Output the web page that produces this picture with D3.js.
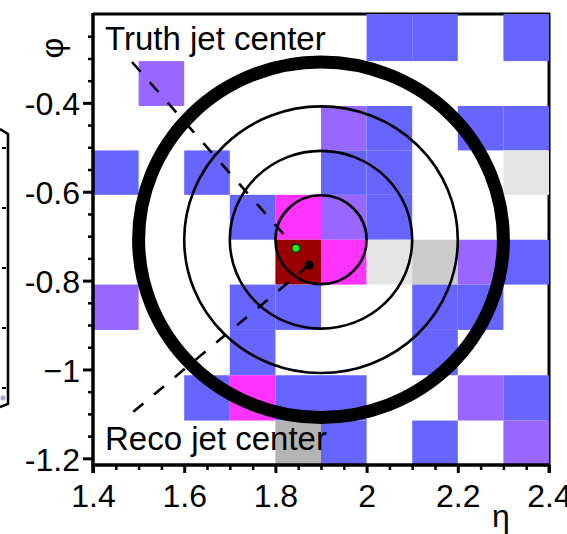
<!DOCTYPE html>
<html>
<head>
<meta charset="utf-8">
<script src="https://cdn.jsdelivr.net/npm/d3@7"></script>
<style>
  html, body { margin: 0; padding: 0; background: #fff; }
  svg { display: block; }
  text { font-family: "Liberation Sans", Arial, Helvetica, sans-serif; fill: #000; }
</style>
</head>
<body>
<script>
// Calorimeter cell grid (eta columns, phi rows from top to bottom)
const etaEdges = [1.4, 1.5, 1.6, 1.7, 1.8, 1.9, 2.0, 2.1, 2.2, 2.3, 2.4];
const phiEdges = [-0.2, -0.306, -0.407, -0.507, -0.607, -0.708, -0.809, -0.911, -1.013, -1.115, -1.215];

// Energy level of each cell: 0 empty, 1-3 greys, 4 blue, 5 violet, 6 magenta, 7 dark red
const cellLevels = [
  [0, 0, 0, 0, 0, 0, 4, 4, 0, 4],
  [0, 5, 0, 0, 0, 0, 0, 0, 0, 0],
  [0, 0, 0, 0, 0, 5, 4, 0, 4, 4],
  [4, 0, 4, 0, 0, 4, 4, 0, 0, 1],
  [0, 0, 0, 4, 6, 5, 4, 0, 0, 0],
  [0, 0, 0, 0, 7, 6, 1, 2, 5, 4],
  [5, 0, 0, 4, 4, 0, 0, 4, 4, 0],
  [0, 0, 0, 4, 0, 0, 0, 4, 0, 0],
  [0, 0, 4, 6, 4, 4, 0, 0, 5, 4],
  [0, 0, 0, 0, 3, 4, 0, 4, 0, 5]
];
const levelColors = ["none", "#e5e5e5", "#cccccc", "#b3b3b3", "#6666ff", "#9966ff", "#ff33ff", "#990000"];

// Cone rings around the jet axis
const coneCenter = { eta: 1.9, phi: -0.708 };
const coneRadii = [0.1, 0.2, 0.3];
const outerConeRadius = 0.4;

// Jet positions and label leader lines
const truthJet = { eta: 1.845, phi: -0.727 };
const recoJet = { eta: 1.874, phi: -0.765 };
const truthLeader = [[1.4855, -0.308], [1.845, -0.727]];
const recoLeader = [[1.874, -0.765], [1.477, -1.105]];

// Axis ticks
const etaMajor = [1.4, 1.6, 1.8, 2.0, 2.2, 2.4];
const etaLabels = ["1.4", "1.6", "1.8", "2", "2.2", "2.4"];
const etaMinor = [1.45, 1.5, 1.55, 1.65, 1.7, 1.75, 1.85, 1.9, 1.95, 2.05, 2.1, 2.15, 2.25, 2.3, 2.35];
const phiMajor = [-1.2, -1.0, -0.8, -0.6, -0.4];
const phiLabels = ["-1.2", "\u22121", "-0.8", "-0.6", "-0.4"];
const phiMinor = [-1.15, -1.1, -1.05, -0.95, -0.9, -0.85, -0.75, -0.7, -0.65, -0.55, -0.5, -0.45, -0.35, -0.3, -0.25];

const W = 567, H = 534;
const svg = d3.select("body").append("svg").attr("width", W).attr("height", H);

const x = d3.scaleLinear().domain([1.4, 2.4]).range([93, 549]);
const y = d3.scaleLinear().domain([-1.215, -0.2]).range([465, 14]);

// Partial palette frame at the left edge
const pal = svg.append("g").attr("class", "palette-frame");
pal.append("path")
  .attr("d", "M0,129 L8,134 L8,404 L0,407")
  .attr("fill", "none").attr("stroke", "#000").attr("stroke-width", 2.5);
[148, 208, 268, 328, 388].forEach(v => {
  pal.append("line").attr("x1", 2).attr("x2", 6).attr("y1", v).attr("y2", v)
    .attr("stroke", "#000").attr("stroke-width", 2);
});
pal.append("circle").attr("cx", 3).attr("cy", 398).attr("r", 2.5).attr("fill", "#a9a9d0");

// Top and right frame edges (partly covered by cells)
svg.append("line").attr("x1", 93).attr("x2", 550).attr("y1", 14).attr("y2", 14)
  .attr("stroke", "#000").attr("stroke-width", 3);
svg.append("line").attr("x1", 549).attr("x2", 549).attr("y1", 13).attr("y2", 466)
  .attr("stroke", "#000").attr("stroke-width", 3);

// Cells
const cells = [];
cellLevels.forEach((row, r) => row.forEach((lvl, c) => {
  if (lvl > 0) cells.push({ e0: etaEdges[c], e1: etaEdges[c + 1], p0: phiEdges[r], p1: phiEdges[r + 1], lvl });
}));
svg.append("g").selectAll("rect").data(cells).join("rect")
  .attr("x", d => x(d.e0))
  .attr("y", d => y(d.p0))
  .attr("width", d => x(d.e1) - x(d.e0))
  .attr("height", d => y(d.p1) - y(d.p0))
  .attr("fill", d => levelColors[d.lvl]);

// Cone rings
const rings = svg.append("g").attr("fill", "none").attr("stroke", "#000");
rings.selectAll("ellipse.thin").data(coneRadii).join("ellipse")
  .attr("class", "thin")
  .attr("cx", x(coneCenter.eta)).attr("cy", y(coneCenter.phi))
  .attr("rx", r => x(coneCenter.eta + r) - x(coneCenter.eta))
  .attr("ry", r => y(coneCenter.phi - r) - y(coneCenter.phi))
  .attr("stroke-width", 2.6);
rings.append("ellipse")
  .attr("cx", x(coneCenter.eta)).attr("cy", y(coneCenter.phi))
  .attr("rx", x(coneCenter.eta + outerConeRadius) - x(coneCenter.eta))
  .attr("ry", y(coneCenter.phi - outerConeRadius) - y(coneCenter.phi))
  .attr("stroke-width", 13);

// Leader lines
const line = d3.line().x(d => x(d[0])).y(d => y(d[1]));
[truthLeader, recoLeader].forEach(pts => {
  svg.append("path").attr("d", line(pts))
    .attr("fill", "none").attr("stroke", "#000")
    .attr("stroke-width", 2.6).attr("stroke-dasharray", "13,14");
});

// Jet markers
svg.append("circle").attr("cx", x(recoJet.eta)).attr("cy", y(recoJet.phi))
  .attr("r", 4.5).attr("fill", "#000");
svg.append("circle").attr("cx", x(truthJet.eta)).attr("cy", y(truthJet.phi))
  .attr("r", 4).attr("fill", "#22ee22").attr("stroke", "#104010").attr("stroke-width", 1.5);

// Annotations
svg.append("text").attr("x", 105).attr("y", 50).attr("font-size", 33).text("Truth jet center");
svg.append("text").attr("x", 105).attr("y", 450).attr("font-size", 33).text("Reco jet center");

// Axes
const gx = svg.append("g").attr("transform", "translate(0,465)");
gx.call(d3.axisBottom(x).tickValues(etaMinor).tickSize(5).tickFormat(""))
  .call(g => g.select(".domain").remove())
  .call(g => g.selectAll(".tick line").attr("stroke-width", 2.5));
const gxMaj = svg.append("g").attr("transform", "translate(0,465)");
gxMaj.call(d3.axisBottom(x).tickValues(etaMajor).tickSize(8).tickPadding(11)
    .tickFormat((d, i) => etaLabels[i]))
  .call(g => g.select(".domain").remove())
  .call(g => g.selectAll(".tick line").attr("stroke-width", 3))
  .call(g => g.selectAll(".tick text").attr("font-size", 32)
    .attr("font-family", "'Liberation Sans', Arial, sans-serif").attr("fill", "#000"));

const gy = svg.append("g").attr("transform", "translate(93,0)");
gy.call(d3.axisLeft(y).tickValues(phiMinor).tickSize(5).tickFormat(""))
  .call(g => g.select(".domain").remove())
  .call(g => g.selectAll(".tick line").attr("stroke-width", 2.5));
const gyMaj = svg.append("g").attr("transform", "translate(93,0)");
gyMaj.call(d3.axisLeft(y).tickValues(phiMajor).tickSize(10).tickPadding(3)
    .tickFormat((d, i) => phiLabels[i]))
  .call(g => g.select(".domain").remove())
  .call(g => g.selectAll(".tick line").attr("stroke-width", 3))
  .call(g => g.selectAll(".tick text").attr("font-size", 32).attr("dy", "0.37em")
    .attr("font-family", "'Liberation Sans', Arial, sans-serif").attr("fill", "#000"));

// Left and bottom axis lines
svg.append("line").attr("x1", 93).attr("x2", 93).attr("y1", 13).attr("y2", 473)
  .attr("stroke", "#000").attr("stroke-width", 3.5);
svg.append("line").attr("x1", 91.5).attr("x2", 550).attr("y1", 465).attr("y2", 465)
  .attr("stroke", "#000").attr("stroke-width", 3.5);
svg.append("line").attr("x1", 549).attr("x2", 549).attr("y1", 465).attr("y2", 473)
  .attr("stroke", "#000").attr("stroke-width", 3);

// Axis titles
svg.append("text").attr("x", 501).attr("y", 527).attr("font-size", 32)
  .attr("text-anchor", "middle").text("\u03b7");
svg.append("text").attr("transform", "translate(63,48) rotate(-90)")
  .attr("font-size", 32).attr("text-anchor", "middle").text("\u03c6");
</script>
</body>
</html>
